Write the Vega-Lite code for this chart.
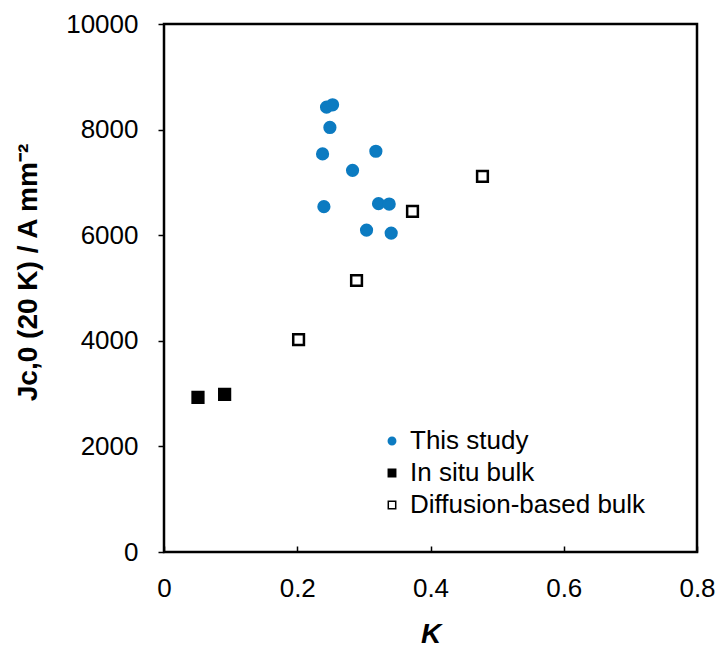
{
  "$schema": "https://vega.github.io/schema/vega-lite/v6.json",
  "width": 533,
  "height": 528,
  "autosize": {"type": "none"},
  "padding": {"left": 164, "top": 24, "right": 23, "bottom": 96},
  "background": "white",
  "config": {
    "view": {"stroke": "black", "strokeWidth": 2.5},
    "font": "Liberation Sans",
    "axis": {
      "grid": false,
      "domain": false,
      "labelFont": "Liberation Sans",
      "labelFontSize": 26,
      "labelColor": "black",
      "tickColor": "black",
      "tickWidth": 1.5,
      "titleFont": "Liberation Sans",
      "titleFontSize": 28,
      "titleColor": "black",
      "titleFontWeight": "bold"
    },
    "legend": {
      "labelFont": "Liberation Sans",
      "labelFontSize": 26,
      "labelColor": "black",
      "labelLimit": 400,
      "padding": 0
    }
  },
  "data": {
    "values": [
      {"K": 0.244, "J": 8425, "series": "This study"},
      {"K": 0.253, "J": 8470, "series": "This study"},
      {"K": 0.249, "J": 8040, "series": "This study"},
      {"K": 0.238, "J": 7539, "series": "This study"},
      {"K": 0.318, "J": 7590, "series": "This study"},
      {"K": 0.283, "J": 7229, "series": "This study"},
      {"K": 0.240, "J": 6541, "series": "This study"},
      {"K": 0.322, "J": 6598, "series": "This study"},
      {"K": 0.338, "J": 6590, "series": "This study"},
      {"K": 0.304, "J": 6097, "series": "This study"},
      {"K": 0.341, "J": 6040, "series": "This study"},
      {"K": 0.051, "J": 2928, "series": "In situ bulk"},
      {"K": 0.091, "J": 2985, "series": "In situ bulk"},
      {"K": 0.202, "J": 4023, "series": "Diffusion-based bulk"},
      {"K": 0.289, "J": 5142, "series": "Diffusion-based bulk"},
      {"K": 0.373, "J": 6452, "series": "Diffusion-based bulk"},
      {"K": 0.478, "J": 7116, "series": "Diffusion-based bulk"}
    ]
  },
  "mark": {"type": "point", "opacity": 1, "fillOpacity": 1, "strokeOpacity": 1, "strokeWidth": 2.5, "size": 115},
  "encoding": {
    "x": {
      "field": "K",
      "type": "quantitative",
      "scale": {"domain": [0, 0.8], "nice": false, "zero": false},
      "axis": {
        "values": [0, 0.2, 0.4, 0.6, 0.8],
        "labelExpr": "datum.value == 0 ? '0' : format(datum.value, '.1f')",
        "tickSize": -6,
        "labelPadding": 29,
        "labelFlush": false,
        "title": "K",
        "titleFontStyle": "italic",
        "titleFontSize": 28,
        "titleY": 68,
        "titleBaseline": "top"
      }
    },
    "y": {
      "field": "J",
      "type": "quantitative",
      "scale": {"domain": [0, 10000], "nice": false},
      "axis": {
        "values": [0, 2000, 4000, 6000, 8000, 10000],
        "format": "d",
        "tickSize": 6,
        "labelPadding": 20,
        "labelFlush": false,
        "title": "Jc,0 (20 K) / A mm⁻²",
        "titleX": -122,
        "titleY": 248
      }
    },
    "shape": {
      "field": "series",
      "type": "nominal",
      "scale": {"domain": ["This study", "In situ bulk", "Diffusion-based bulk"], "range": ["circle", "square", "square"]},
      "legend": {
        "title": null,
        "orient": "none",
        "legendX": 215,
        "legendY": 404,
        "symbolSize": 55,
        "symbolStrokeWidth": 1.5,
        "rowPadding": 6,
        "labelOffset": 5
      }
    },
    "fill": {
      "field": "series",
      "type": "nominal",
      "scale": {"domain": ["This study", "In situ bulk", "Diffusion-based bulk"], "range": ["#0C7BC1", "#000000", "#ffffff"]},
      "legend": {
        "title": null,
        "orient": "none",
        "legendX": 215,
        "legendY": 404,
        "symbolSize": 55,
        "symbolStrokeWidth": 1.5,
        "rowPadding": 6,
        "labelOffset": 5
      }
    },
    "stroke": {
      "field": "series",
      "type": "nominal",
      "scale": {"domain": ["This study", "In situ bulk", "Diffusion-based bulk"], "range": ["#0C7BC1", "#000000", "#000000"]},
      "legend": {
        "title": null,
        "orient": "none",
        "legendX": 215,
        "legendY": 404,
        "symbolSize": 55,
        "symbolStrokeWidth": 1.5,
        "rowPadding": 6,
        "labelOffset": 5
      }
    }
  }
}
